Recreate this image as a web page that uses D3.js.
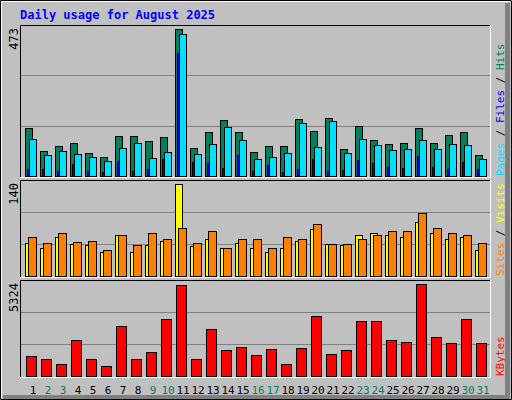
<!DOCTYPE html>
<html><head><meta charset="utf-8">
<script src="https://cdn.jsdelivr.net/npm/d3@7"></script>
<style>body{margin:0;background:#fff}</style>
</head><body>
<svg width="512" height="400"></svg>
<script>
const days = d3.range(1, 32)
const weekend = [2, 3, 9, 10, 16, 17, 23, 24, 30, 31]
const hits = [156,82,98,107,75,62,130,130,114,127,473,91,140,181,140,78,98,98,185,146,188,88,162,117,104,107,156,107,133,143,69]
const files = [120,69,82,72,62,49,91,107,59,78,458,72,104,159,117,56,62,75,172,94,178,75,120,101,85,88,117,88,104,101,56]
const pages = [21,21,17,38,17,14,49,17,24,56,397,46,43,27,69,17,36,14,24,56,17,20,53,43,30,27,65,30,24,46,24]
const visits = [50,43,60,48,47,37,62,37,47,54,140,45,57,42,50,42,36,43,54,71,48,47,62,66,63,59,82,65,56,60,40]
const sites = [60,50,66,51,53,40,62,47,66,57,73,50,68,42,57,56,43,59,57,79,48,48,57,62,68,68,96,73,66,62,50]
const kbytes = [1181,1007,716,2110,1007,600,2865,1007,1413,3272,5266,1007,2691,1529,1704,1239,1588,716,1646,3446,1297,1529,3156,3156,2110,1994,5324,2284,1936,3272,1936]

const svg = d3.select('svg')
const font = 'DejaVu Sans Mono, monospace'

// outer frame
svg.append('rect').attr('width', 512).attr('height', 400).attr('fill', '#c0c0c0')
svg.append('path').attr('d', 'M0.5,399.5V0.5H511.5').attr('stroke', '#000').attr('fill', 'none')
svg.append('path').attr('d', 'M1.5,398V1.5H510').attr('stroke', '#fff').attr('fill', 'none')
svg.append('path').attr('d', 'M3,397.5H507.5V3').attr('stroke', '#808080').attr('stroke-width', 5).attr('fill', 'none')
svg.append('path').attr('d', 'M1,399.5H511.5V1').attr('stroke', '#000').attr('fill', 'none')

svg.append('text').text('Daily usage for August 2025')
    .attr('x', 20).attr('y', 19)
    .attr('font-family', font).attr('font-weight', 'bold').attr('font-size', '12px')
    .attr('fill', '#0000ff')

const x = d3.scaleBand(days, [20, 485])

function panel(top, bottom, max, label) {
    const y = d3.scaleLinear([0, max], [bottom, bottom - (bottom - top - 4)])
    const g = svg.append('g')
    const h = bottom - top
    for (const f of [1 / 3, 2 / 3]) {
        const gy = Math.round(bottom - h * f) + 0.5
        g.append('line').attr('x1', 21).attr('x2', 490).attr('y1', gy).attr('y2', gy)
            .attr('stroke', '#808080')
    }
    g.append('path').attr('d', `M20.5,${bottom + 1}V${top + 0.5}H490`).attr('stroke', '#000').attr('fill', 'none')
    g.append('path').attr('d', `M20,${bottom + 1.5}H490.5V${top}`).attr('stroke', '#fff').attr('fill', 'none')
    g.append('text').text(label)
        .attr('transform', `translate(18, ${top + 3}) rotate(-90)`)
        .attr('text-anchor', 'end')
        .attr('font-family', font).attr('font-size', '12px').attr('fill', '#000')
    return y
}

function bars(y, data, dx, w, color) {
    svg.append('g').selectAll('rect').data(data).join('rect')
        .attr('x', (d, i) => x(days[i]) + dx + 0.5)
        .attr('y', d => Math.round(y(d)) + 0.5)
        .attr('width', w)
        .attr('height', d => y(0) - Math.round(y(d)))
        .attr('fill', color).attr('stroke', '#000')
}

// hits / files / pages
const y1 = panel(25, 176, d3.max(hits), d3.max(hits))
bars(y1, hits, 5, 7, '#00805c')
bars(y1, files, 9, 7, '#00e0ff')
bars(y1, pages, 7, 2, '#0000ff')

// visits / sites
const y2 = panel(180, 276, d3.max(visits), d3.max(visits))
bars(y2, visits, 5, 7, '#ffff00')
bars(y2, sites, 8, 8, '#ff8000')

// kbytes
const y3 = panel(280, 376, d3.max(kbytes), d3.max(kbytes))
bars(y3, kbytes, 6, 10, '#ff0000')

svg.append('g').selectAll('text').data(days).join('text')
    .attr('x', d => x(d) + 13)
    .attr('y', 394)
    .attr('text-anchor', 'middle')
    .attr('font-family', font).attr('font-size', '11px')
    .attr('fill', d => weekend.includes(d) ? '#008060' : '#000')
    .text(d => d)

function sideLabel(parts, yPos) {
    const t = svg.append('text')
        .attr('transform', `translate(504, ${yPos}) rotate(-90)`)
        .attr('font-family', font).attr('font-size', '11px')
    for (const [s, c] of parts) t.append('tspan').text(s).attr('fill', c)
}
sideLabel([['Pages', '#00e0ff'], [' / ', '#000'], ['Files', '#0000ff'], [' / ', '#000'], ['Hits', '#00805c']], 176)
sideLabel([['Sites', '#ff8000'], [' / ', '#000'], ['Visits', '#ffff00']], 276)
sideLabel([['KBytes', '#ff0000']], 376)
</script>
</body></html>
